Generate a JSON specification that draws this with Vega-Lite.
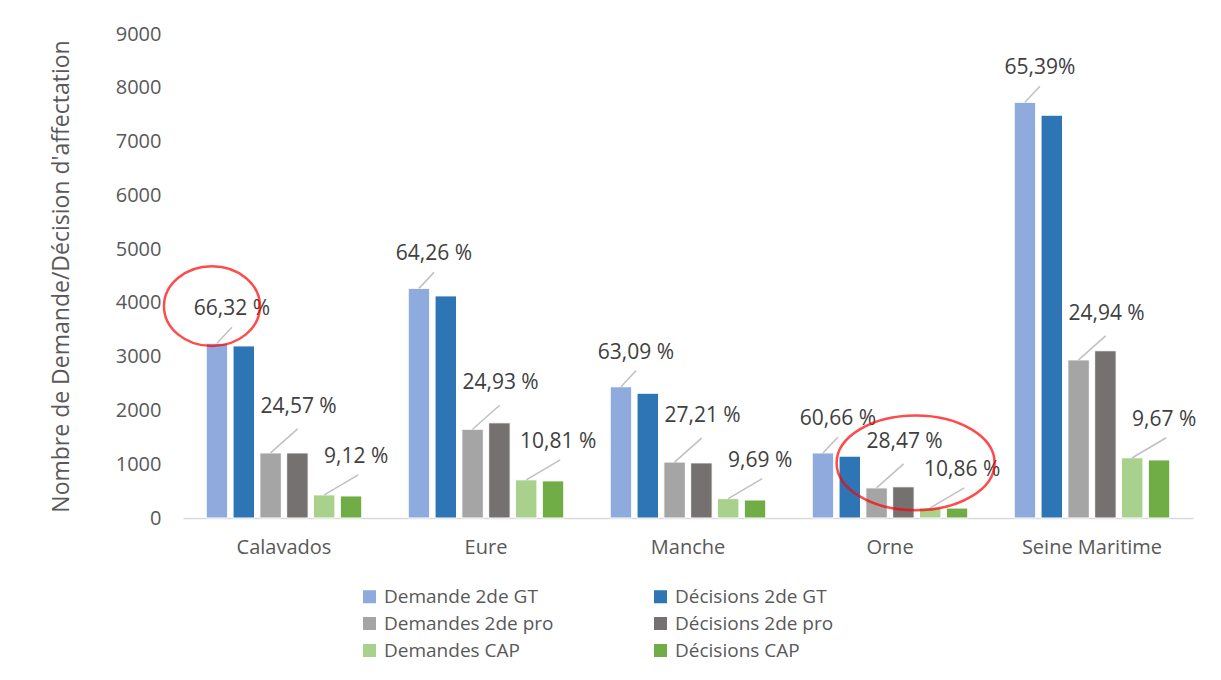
{
  "$schema": "https://vega.github.io/schema/vega-lite/v6.json",
  "width": 1010,
  "height": 484,
  "autosize": {"type": "none"},
  "padding": {"left": 183, "top": 34, "right": 28, "bottom": 162},
  "background": "white",
  "config": {
    "font": "Open Sans",
    "view": {"stroke": null},
    "axis": {"labelColor": "#595959", "titleColor": "#595959", "labelFont": "Open Sans", "titleFont": "Open Sans"}
  },
  "data": {
    "values": [
      {"dept": "Calavados", "serie": "Demande 2de GT", "value": 3250, "pct": "66,32 %"},
      {"dept": "Calavados", "serie": "Décisions 2de GT", "value": 3200},
      {"dept": "Calavados", "serie": "Demandes 2de pro", "value": 1210, "pct": "24,57 %"},
      {"dept": "Calavados", "serie": "Décisions 2de pro", "value": 1210},
      {"dept": "Calavados", "serie": "Demandes CAP", "value": 430, "pct": "9,12 %"},
      {"dept": "Calavados", "serie": "Décisions CAP", "value": 410},
      {"dept": "Eure", "serie": "Demande 2de GT", "value": 4270, "pct": "64,26 %"},
      {"dept": "Eure", "serie": "Décisions 2de GT", "value": 4130},
      {"dept": "Eure", "serie": "Demandes 2de pro", "value": 1650, "pct": "24,93 %"},
      {"dept": "Eure", "serie": "Décisions 2de pro", "value": 1770},
      {"dept": "Eure", "serie": "Demandes CAP", "value": 710, "pct": "10,81 %"},
      {"dept": "Eure", "serie": "Décisions CAP", "value": 690},
      {"dept": "Manche", "serie": "Demande 2de GT", "value": 2440, "pct": "63,09 %"},
      {"dept": "Manche", "serie": "Décisions 2de GT", "value": 2320},
      {"dept": "Manche", "serie": "Demandes 2de pro", "value": 1040, "pct": "27,21 %"},
      {"dept": "Manche", "serie": "Décisions 2de pro", "value": 1025},
      {"dept": "Manche", "serie": "Demandes CAP", "value": 360, "pct": "9,69 %"},
      {"dept": "Manche", "serie": "Décisions CAP", "value": 335},
      {"dept": "Orne", "serie": "Demande 2de GT", "value": 1210, "pct": "60,66 %"},
      {"dept": "Orne", "serie": "Décisions 2de GT", "value": 1150},
      {"dept": "Orne", "serie": "Demandes 2de pro", "value": 560, "pct": "28,47 %"},
      {"dept": "Orne", "serie": "Décisions 2de pro", "value": 580},
      {"dept": "Orne", "serie": "Demandes CAP", "value": 190, "pct": "10,86 %"},
      {"dept": "Orne", "serie": "Décisions CAP", "value": 185},
      {"dept": "Seine Maritime", "serie": "Demande 2de GT", "value": 7730, "pct": "65,39%"},
      {"dept": "Seine Maritime", "serie": "Décisions 2de GT", "value": 7490},
      {"dept": "Seine Maritime", "serie": "Demandes 2de pro", "value": 2940, "pct": "24,94 %"},
      {"dept": "Seine Maritime", "serie": "Décisions 2de pro", "value": 3110},
      {"dept": "Seine Maritime", "serie": "Demandes CAP", "value": 1120, "pct": "9,67 %"},
      {"dept": "Seine Maritime", "serie": "Décisions CAP", "value": 1080}
    ]
  },
  "encoding": {
    "x": {
      "field": "dept", "type": "nominal", "sort": null,
      "scale": {"paddingInner": 0.23, "paddingOuter": 0.115},
      "axis": {"title": null, "labelAngle": 0, "labelFontSize": 20, "labelPadding": 19, "ticks": false, "domainColor": "#D9D9D9", "domainWidth": 1.5}
    },
    "xOffset": {
      "field": "serie", "type": "nominal", "sort": null,
      "scale": {"domain": ["Demande 2de GT", "Décisions 2de GT", "Demandes 2de pro", "Décisions 2de pro", "Demandes CAP", "Décisions CAP"], "paddingInner": 0.2, "paddingOuter": 0}
    },
    "y": {
      "field": "value", "type": "quantitative",
      "scale": {"domain": [0, 9000], "nice": false},
      "axis": {"title": "Nombre de Demande/Décision d'affectation", "titleFontSize": 23, "titleFontWeight": "normal", "titlePadding": 42, "labelFontSize": 20, "labelPadding": 22, "format": "d", "labelOverlap": false, "values": [0,1000,2000,3000,4000,5000,6000,7000,8000,9000], "ticks": false, "domain": false, "grid": false}
    }
  },
  "layer": [
    {
      "mark": {"type": "bar", "stroke": "white", "strokeWidth": 1},
      "encoding": {
        "color": {
          "field": "serie", "type": "nominal", "sort": null,
          "scale": {
            "domain": ["Demande 2de GT", "Décisions 2de GT", "Demandes 2de pro", "Décisions 2de pro", "Demandes CAP", "Décisions CAP"],
            "range": ["#8FAADC", "#2E75B6", "#A5A5A5", "#767171", "#A9D18E", "#70AD47"]
          },
          "legend": {
            "title": null, "orient": "none", "legendX": 177, "legendY": 553, "direction": "horizontal",
            "columns": 2, "columnPadding": 97, "rowPadding": 7,
            "symbolType": "square", "symbolSize": 170, "symbolStrokeWidth": 0,
            "labelFontSize": 19, "labelColor": "#595959", "labelFont": "Open Sans", "labelOffset": 5, "labelLimit": 300
          }
        }
      }
    },
    {
      "transform": [{"filter": "datum.pct != null"}],
      "mark": {"type": "point", "filled": false, "stroke": "#A6A6A6", "strokeWidth": 1.5, "size": 6400},
      "encoding": {
        "shape": {
          "field": "serie", "type": "nominal", "legend": null,
          "scale": {
            "domain": ["Demande 2de GT", "Demandes 2de pro", "Demandes CAP"],
            "range": ["M0,0L0.375,-0.4", "M0,0L0.675,-0.6", "M0,0L0.85,-0.5"]
          }
        }
      }
    },
    {
      "transform": [{"filter": "datum.serie == 'Demande 2de GT'"}],
      "mark": {"type": "text", "fontSize": 21, "color": "#404040", "dx": 15, "dy": -34, "font": "Open Sans"},
      "encoding": {"text": {"field": "pct"}}
    },
    {
      "transform": [{"filter": "datum.serie == 'Demandes 2de pro'"}],
      "mark": {"type": "text", "fontSize": 21, "color": "#404040", "dx": 28, "dy": -46, "font": "Open Sans"},
      "encoding": {"text": {"field": "pct"}}
    },
    {
      "transform": [{"filter": "datum.serie == 'Demandes CAP'"}],
      "mark": {"type": "text", "fontSize": 21, "color": "#404040", "dx": 32, "dy": -38, "font": "Open Sans"},
      "encoding": {"text": {"field": "pct"}}
    },
    {
      "transform": [{"filter": "datum.dept == 'Calavados' && datum.serie == 'Demande 2de GT'"}],
      "mark": {"type": "point", "filled": false, "stroke": "#FF0000", "strokeWidth": 2.5, "size": 9216, "shape": "M-1.104,-0.771 A1,0.83 0 1,0 0.896,-0.771 A1,0.83 0 1,0 -1.104,-0.771"},
      "encoding": {}
    },
    {
      "transform": [{"filter": "datum.dept == 'Orne' && datum.serie == 'Demandes 2de pro'"}],
      "mark": {"type": "point", "filled": false, "stroke": "#FF0000", "strokeWidth": 2.5, "size": 24964, "shape": "M-0.506,-0.316 A1,0.6 0 1,0 1.494,-0.316 A1,0.6 0 1,0 -0.506,-0.316"},
      "encoding": {}
    }
  ]
}
